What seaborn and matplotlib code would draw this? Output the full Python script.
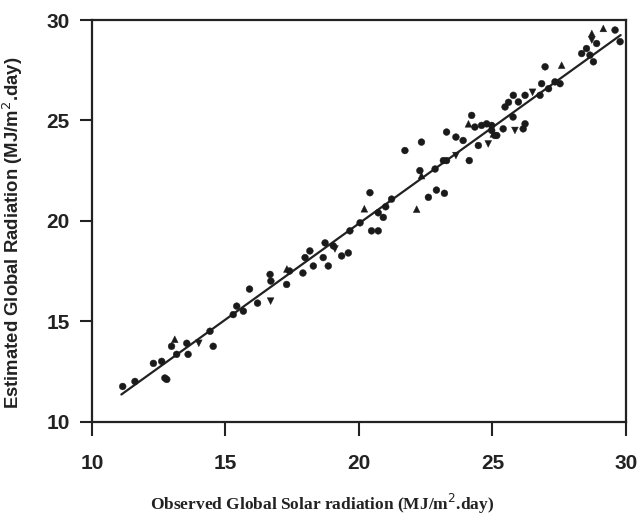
import matplotlib
matplotlib.use("Agg")
import matplotlib.pyplot as plt
import seaborn as sns
import pandas as pd

# Observed vs estimated global solar radiation (MJ/m2.day)
circ_obs = [11.15, 11.61, 12.61, 12.73, 12.8, 12.98, 13.17, 13.55, 13.6, 14.54, 14.42,
            15.29, 15.42, 15.67, 15.9, 16.67, 16.7, 17.29, 17.4, 17.9, 17.98, 18.29,
            18.16, 18.66, 18.73, 18.85, 19.04, 19.35, 19.6, 19.66, 20.04, 20.41, 20.47,
            20.72, 20.72, 20.91, 21.22, 22.6, 22.9, 23.2, 21.72, 22.34, 22.28, 22.85,
            23.16, 23.28, 23.28, 23.63, 24.13, 24.22, 24.34, 24.47, 24.59, 24.97,
            25.16, 25.4, 25.47, 24.78, 24.97, 25.09, 26.15, 26.22, 25.78, 25.97,
            26.22, 25.77, 26.78, 26.84, 26.97, 27.1, 27.34, 27.53, 28.34, 28.52,
            28.65, 28.78, 28.9, 29.59, 29.78, 12.3, 16.2, 21.0, 23.9, 25.6]
circ_est = [11.75, 12.0, 13.0, 12.17, 12.1, 13.75, 13.35, 13.9, 13.35, 13.75, 14.5,
            15.33, 15.75, 15.5, 16.6, 17.33, 17.0, 16.83, 17.5, 17.4, 18.17, 17.75,
            18.5, 18.17, 18.9, 17.75, 18.75, 18.25, 18.4, 19.5, 19.9, 21.4, 19.5,
            19.5, 20.4, 20.17, 21.08, 21.17, 21.53, 21.37, 23.5, 23.92, 22.5, 22.58,
            23.0, 23.0, 24.42, 24.17, 23.0, 25.25, 24.67, 23.75, 24.75, 24.75,
            24.25, 24.58, 25.67, 24.83, 24.5, 24.25, 24.58, 24.83, 26.25, 25.92,
            26.25, 25.17, 26.25, 26.83, 27.67, 26.58, 26.92, 26.83, 28.33, 28.58,
            28.25, 27.92, 28.83, 29.5, 28.92, 12.9, 15.9, 20.7, 24.0, 25.9]

up_obs = [13.1, 22.16, 24.1, 25.03, 27.59, 28.72, 29.15, 22.34, 17.3, 20.2]
up_est = [14.1, 20.58, 24.83, 24.33, 27.75, 29.33, 29.58, 22.25, 17.6, 20.6]

down_obs = [16.69, 25.84, 24.84, 23.63, 28.72, 19.1, 14.0, 26.5]
down_est = [16.0, 24.5, 23.83, 23.25, 29.0, 18.6, 13.9, 26.4]

fit_obs = [11.1, 29.8]
fit_est = [11.35, 29.25]

x_ticks = [10, 15, 20, 25, 30]
y_ticks = [10, 15, 20, 25, 30]

df = pd.concat([
    pd.DataFrame({"obs": circ_obs, "est": circ_est, "m": "c"}),
    pd.DataFrame({"obs": up_obs, "est": up_est, "m": "u"}),
    pd.DataFrame({"obs": down_obs, "est": down_est, "m": "d"}),
], ignore_index=True)
line_df = pd.DataFrame({"obs": fit_obs, "est": fit_est})

sns.set_style("ticks")
plt.rcParams["font.family"] = ["Liberation Sans", "DejaVu Sans"]

fig = plt.figure(figsize=(6.41, 5.28), dpi=100)
ax = fig.add_axes([0.1435, 0.2015, 0.8331, 0.7606])

sns.scatterplot(data=df, x="obs", y="est", style="m",
                markers={"c": "o", "u": "^", "d": "v"},
                color="#1a1a1a", s=24, edgecolor="#1a1a1a", linewidth=0.3,
                legend=False, ax=ax, zorder=3)
sns.lineplot(data=line_df, x="obs", y="est", color="#222222", linewidth=1.6,
             ax=ax, zorder=2)

ax.set_xlim(10, 30)
ax.set_ylim(10, 30)
ax.set_xticks(x_ticks)
ax.set_yticks(y_ticks)
ax.set_xticklabels([str(t) for t in x_ticks], fontsize=15, fontweight="bold", color="#222222")
ax.set_yticklabels([str(t) for t in y_ticks], fontsize=15, fontweight="bold", color="#222222")
ax.tick_params(axis="x", direction="out", length=10, width=1.5, pad=13, colors="#222222")
ax.tick_params(axis="y", direction="out", length=9, width=1.5, pad=7, colors="#222222")
for sp in ax.spines.values():
    sp.set_visible(True)
    sp.set_linewidth(1.6)
    sp.set_color("#222222")

ax.set_xlabel("Observed Global Solar radiation (MJ/m$^2$.day)",
              family=["Liberation Serif", "DejaVu Serif"], fontsize=12.5,
              fontweight="bold", color="#222222")
ax.xaxis.set_label_coords(0.43, -0.175)
ax.set_ylabel("Estimated Global Radiation (MJ/m$^2$.day)",
              family=["Liberation Sans", "DejaVu Sans"], fontsize=13.3,
              fontweight="bold", color="#222222")
ax.yaxis.set_label_coords(-0.125, 0.47)

fig.savefig("out.png", dpi=100)
